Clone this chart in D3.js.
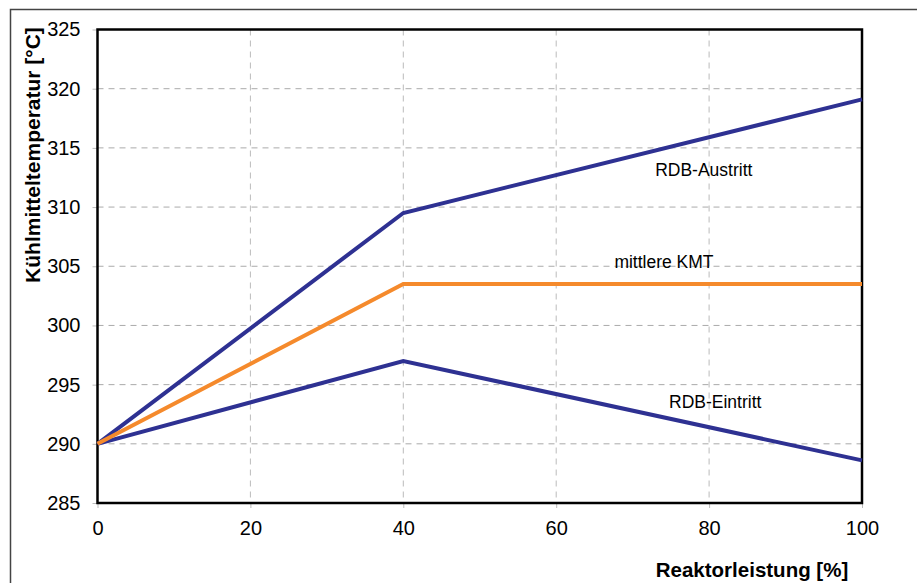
<!DOCTYPE html>
<html><head><meta charset="utf-8">
<script src="https://d3js.org/d3.v7.min.js"></script>
<style>body{margin:0;background:#fff}svg{display:block}text{font-family:"Liberation Sans",Arial,sans-serif}</style>
</head><body>
<script>
const xValues = [0, 40, 100];
const austritt = [290, 309.5, 319.1];
const mittlere = [290, 303.5, 303.5];
const eintritt = [290, 297, 288.6];
const xTicks = [0, 20, 40, 60, 80, 100];
const yTicks = [285, 290, 295, 300, 305, 310, 315, 320, 325];
const seriesNames = ["RDB-Austritt", "mittlere KMT", "RDB-Eintritt"];
const labelPos = [[79.3, 312.6], [74.1, 304.85], [80.8, 293.0]];

const W = 917, H = 583;
const m = {l: 97.5, t: 29.5, r: 862, b: 503};
const svg = d3.select("body").append("svg").attr("width", W).attr("height", H);
// outer frame
svg.append("path").attr("d", `M10.5,${H}V9.5H${W}`).attr("fill","none").attr("stroke","#444").attr("stroke-width",1.5);

const x = d3.scaleLinear().domain([0,100]).range([m.l, m.r]);
const y = d3.scaleLinear().domain([285,325]).range([m.b, m.t]);

// grid
svg.append("g").selectAll("line").data(yTicks.slice(1,-1)).join("line")
  .attr("x1", m.l).attr("x2", m.r).attr("y1", d=>y(d)).attr("y2", d=>y(d))
  .attr("stroke","#aaa").attr("stroke-dasharray","6,5").attr("stroke-width",1);
svg.append("g").selectAll("line").data(xTicks.slice(1,-1)).join("line")
  .attr("y1", m.t).attr("y2", m.b).attr("x1", d=>x(d)).attr("x2", d=>x(d))
  .attr("stroke","#bbb").attr("stroke-dasharray","6,5").attr("stroke-width",1);

// axes
const xAxis = svg.append("g").attr("transform",`translate(0,${m.b})`)
  .call(d3.axisBottom(x).tickValues(xTicks).tickSize(5).tickPadding(13));
const yAxis = svg.append("g").attr("transform",`translate(${m.l},0)`)
  .call(d3.axisLeft(y).tickValues(yTicks).tickSize(5).tickPadding(12));
[xAxis, yAxis].forEach(a=>{
  a.select(".domain").remove();
  a.selectAll(".tick line").attr("stroke","#bbb");
  a.selectAll("text").attr("font-size",20).attr("fill","#000").attr("font-family","Liberation Sans, Arial, sans-serif");
});
// frame
svg.append("rect").attr("x",m.l).attr("y",m.t).attr("width",m.r-m.l).attr("height",m.b-m.t)
  .attr("fill","none").attr("stroke","#000").attr("stroke-width",2.5);

const line = d3.line().x((d,i)=>x(xValues[i])).y(d=>y(d));
const series = [austritt, mittlere, eintritt];
const colors = ["#2e3192", "#f58a2c", "#2e3192"];
[eintritt, austritt, mittlere].forEach(s=>{
  const c = colors[series.indexOf(s)];
  svg.append("path").datum(s).attr("d", line).attr("fill","none")
    .attr("stroke", c).attr("stroke-width",4).attr("stroke-linejoin","miter");
});

svg.append("g").selectAll("text").data(seriesNames).join("text")
  .attr("x",(d,i)=>x(labelPos[i][0])).attr("y",(d,i)=>y(labelPos[i][1]))
  .attr("text-anchor","middle").attr("font-size",17.5).text(d=>d);

svg.append("text").attr("x",752).attr("y",577).attr("text-anchor","middle")
  .attr("font-size",20.5).attr("font-weight","bold").text("Reaktorleistung [%]");
svg.append("text").attr("transform","translate(40,155) rotate(-90)").attr("text-anchor","middle")
  .attr("font-size",21).attr("font-weight","bold").text("Kühlmitteltemperatur [°C]");
</script>
</body></html>
